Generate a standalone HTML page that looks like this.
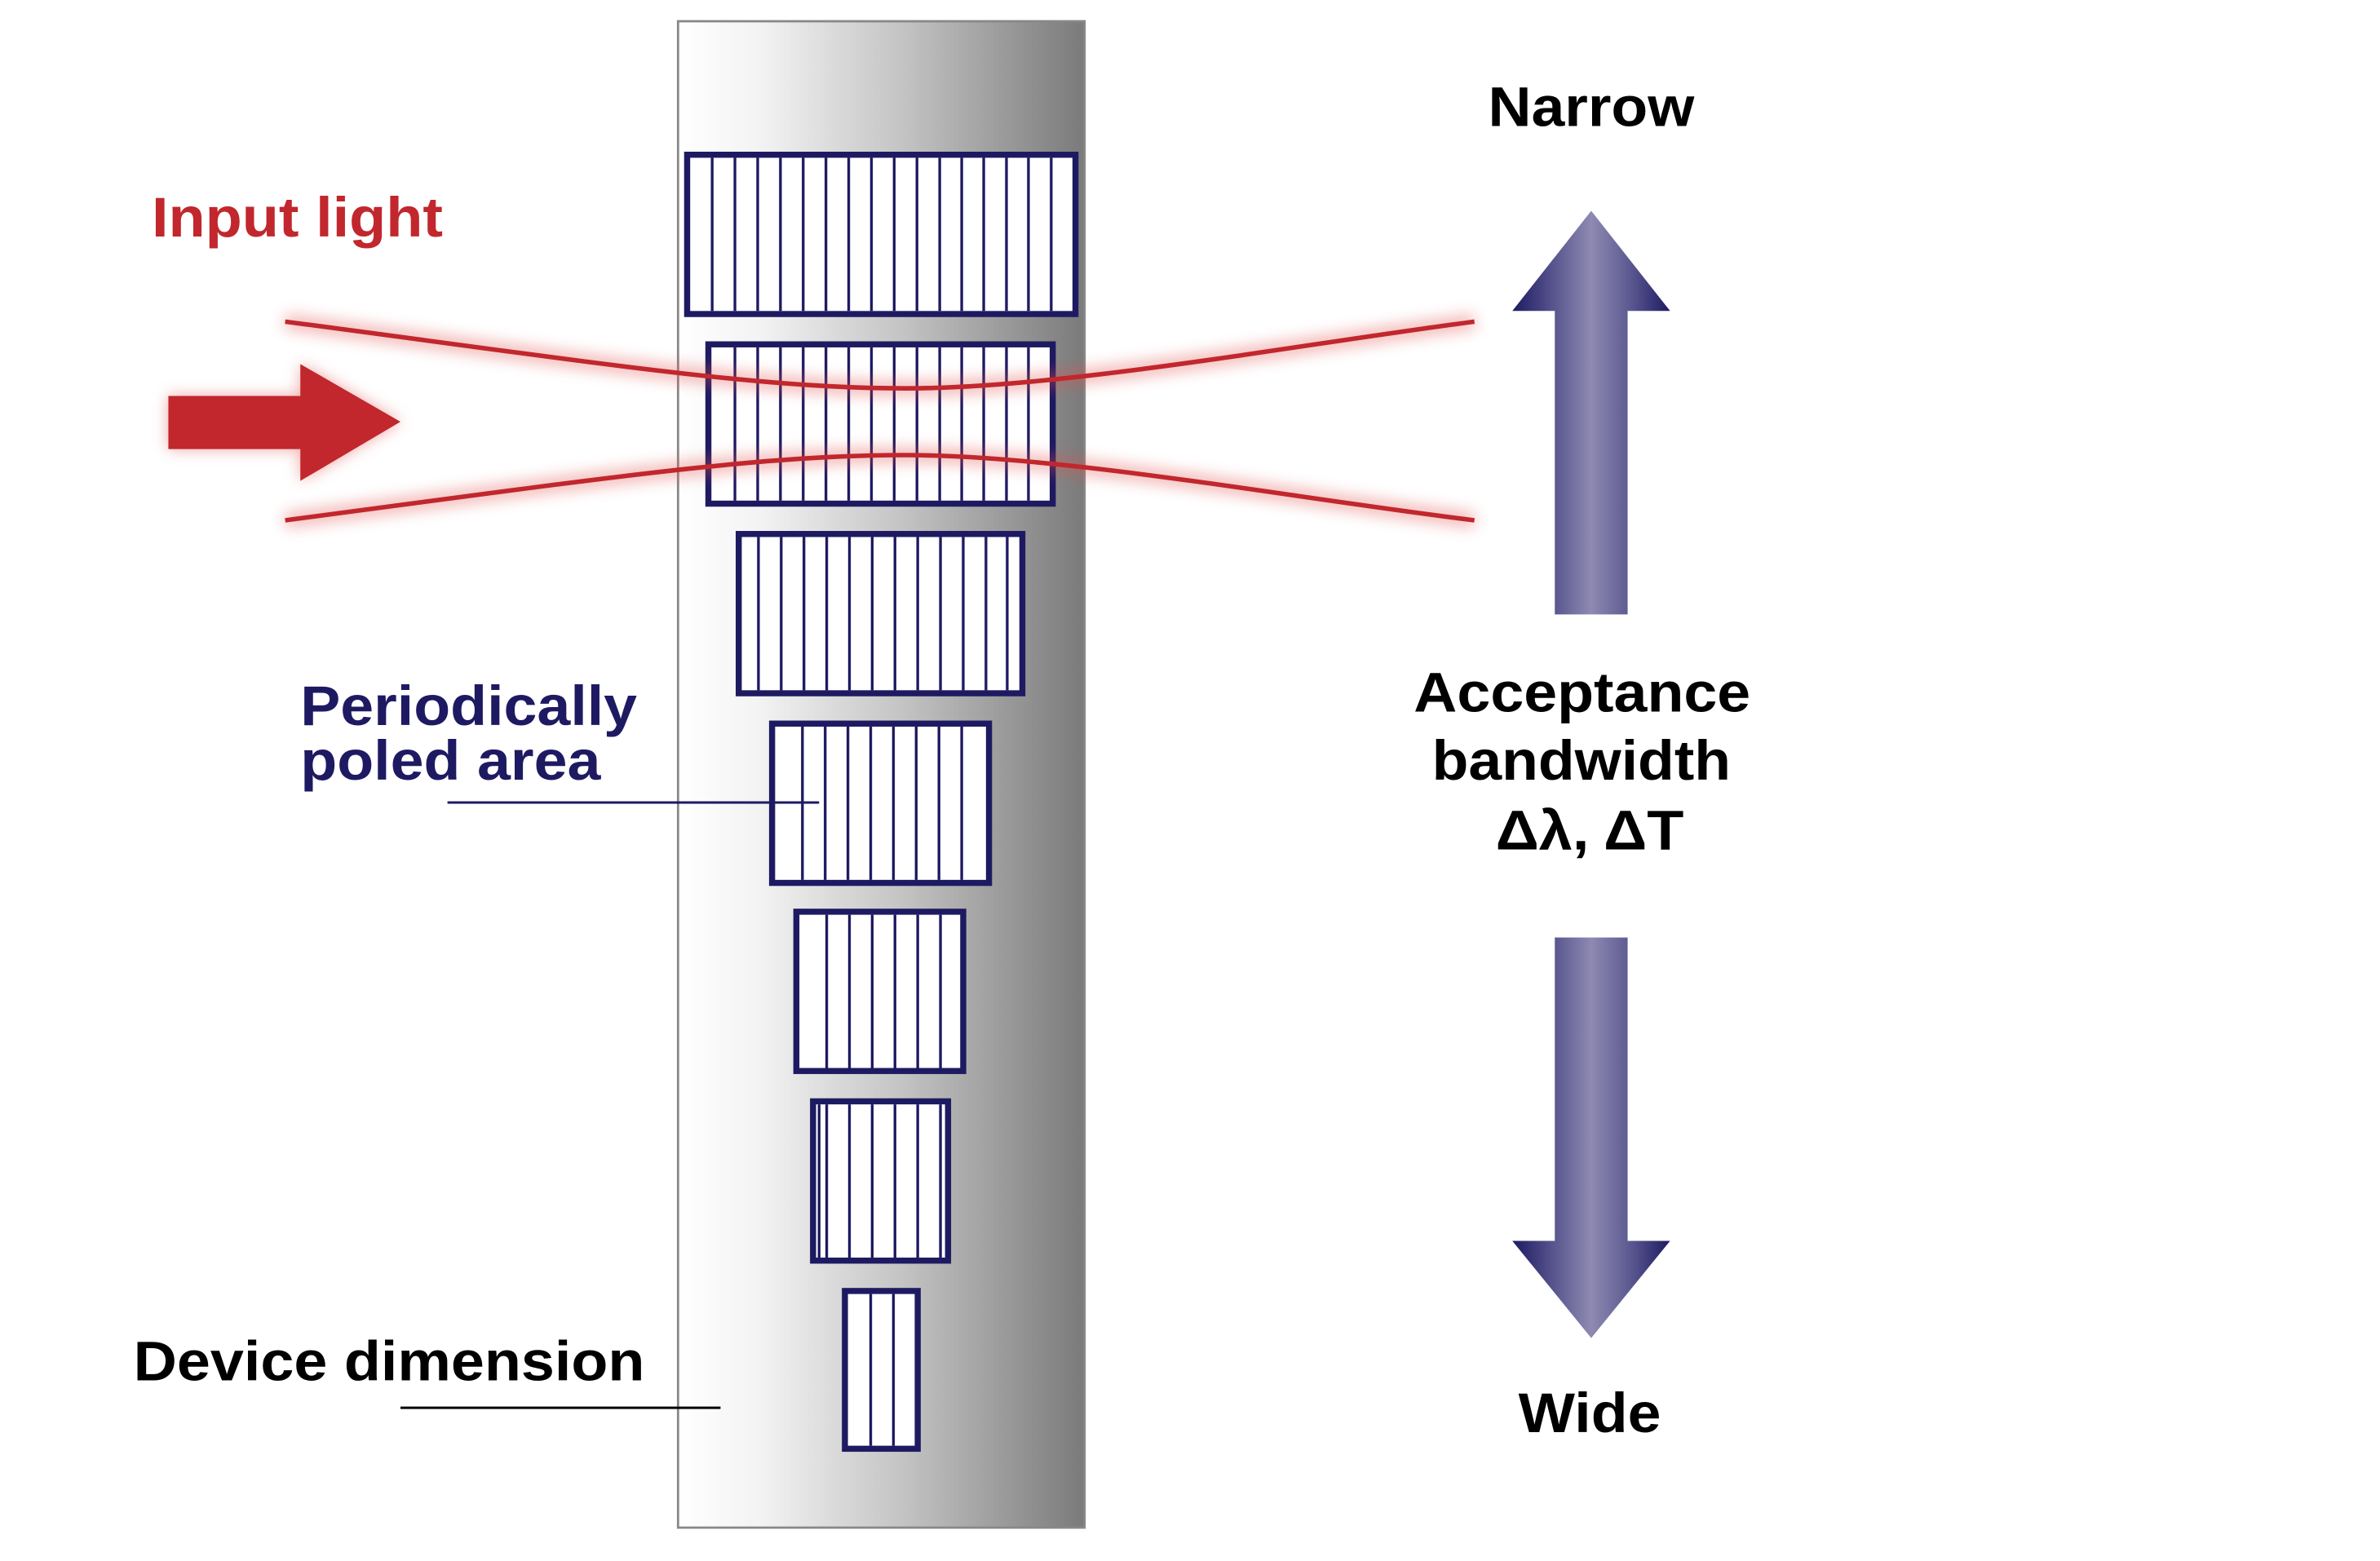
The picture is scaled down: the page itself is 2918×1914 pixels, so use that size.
<!DOCTYPE html>
<html><head><meta charset="utf-8"><style>
html,body{margin:0;padding:0;background:#fff;}
svg{display:block;}
text{font-family:"Liberation Sans",Arial,sans-serif;font-weight:bold;}
</style></head><body>
<svg width="2918" height="1914" viewBox="0 0 1569 1029" preserveAspectRatio="none" xmlns="http://www.w3.org/2000/svg">
<defs>
<linearGradient id="dev" x1="0" x2="1" y1="0" y2="0">
<stop offset="0" stop-color="#ffffff"/>
<stop offset="0.2" stop-color="#f3f3f3"/>
<stop offset="0.55" stop-color="#c4c4c4"/>
<stop offset="1" stop-color="#7a7a7a"/>
</linearGradient>
<linearGradient id="pur" x1="0" x2="1" y1="0" y2="0">
<stop offset="0" stop-color="#1e1a62"/>
<stop offset="0.25" stop-color="#55528c"/>
<stop offset="0.5" stop-color="#8e8ab2"/>
<stop offset="0.75" stop-color="#5b5890"/>
<stop offset="1" stop-color="#1e1a62"/>
</linearGradient>
<filter id="glow" x="-20%" y="-50%" width="140%" height="200%">
<feGaussianBlur stdDeviation="5"/>
</filter>
</defs>

<!-- device -->
<rect x="447" y="14" width="268" height="993" fill="url(#dev)" stroke="#888" stroke-width="1.5"/>

<!-- gratings -->
<g fill="#fff" stroke="#1e1a62" stroke-width="4">
<rect x="453" y="102" width="256" height="105"/>
<rect x="467" y="227" width="227" height="105"/>
<rect x="487" y="352" width="187" height="105"/>
<rect x="509" y="477" width="143" height="105"/>
<rect x="525" y="601" width="110" height="105"/>
<rect x="536" y="726" width="89" height="105"/>
<rect x="557" y="851" width="48" height="104"/>
</g>
<g stroke="#1e1a62" stroke-width="1.8">
<path d="M469.5 104V205M484.5 104V205M499.5 104V205M514.5 104V205M529.5 104V205M544.5 104V205M559.5 104V205M574.5 104V205M589.5 104V205M604.5 104V205M619.5 104V205M634 104V205M648.5 104V205M663.5 104V205M678 104V205M693 104V205"/>
<path d="M484.5 229V330M499.5 229V330M514.5 229V330M529.5 229V330M544.5 229V330M559.5 229V330M574.5 229V330M589.5 229V330M604.5 229V330M619.5 229V330M634 229V330M648.5 229V330M663.5 229V330M678 229V330"/>
<path d="M500 354V455M515 354V455M530 354V455M545 354V455M560 354V455M575 354V455M590 354V455M605 354V455M620 354V455M635 354V455M650 354V455M664 354V455"/>
<path d="M529 479V580M544 479V580M559 479V580M574 479V580M589 479V580M604 479V580M619 479V580M634 479V580"/>
<path d="M545 603V704M560 603V704M575 603V704M590 603V704M605 603V704M620 603V704"/>
<path d="M540 728V829M545 728V829M560 728V829M575 728V829M590 728V829M605 728V829M620 728V829"/>
<path d="M574 853V953M589 853V953"/>
</g>

<!-- red beams -->
<g fill="none" stroke="#e0504c" stroke-width="9" opacity="0.45" filter="url(#glow)">
<path d="M188 212 C 400 240 500 256 597 256 C 700 256 850 228 972 212"/>
<path d="M188 343 C 400 315 500 300 597 300 C 700 300 850 328 972 343"/>
</g>
<g fill="none" stroke="#c1272d" stroke-width="3">
<path d="M188 212 C 400 240 500 256 597 256 C 700 256 850 228 972 212"/>
<path d="M188 343 C 400 315 500 300 597 300 C 700 300 850 328 972 343"/>
</g>

<!-- red input arrow -->
<path d="M111 261H198V240L264 278L198 317V296H111Z" fill="#e0504c" opacity="0.5" filter="url(#glow)"/>
<path d="M111 261H198V240L264 278L198 317V296H111Z" fill="#c1272d"/>

<!-- purple arrows -->
<path d="M1025 405V205H997L1049 139L1101 205H1073V405Z" fill="url(#pur)"/>
<path d="M1025 618V818H997L1049 882L1101 818H1073V618Z" fill="url(#pur)"/>

<!-- leader lines -->
<line x1="295" y1="529" x2="540" y2="529" stroke="#1e1a62" stroke-width="1.6"/>
<line x1="264" y1="928" x2="475" y2="928" stroke="#000" stroke-width="1.6"/>

<!-- text -->
<text x="100" y="156" font-size="37" fill="#c1272d" textLength="192" lengthAdjust="spacingAndGlyphs">Input light</text>
<text x="198" y="478" font-size="37" fill="#1e1a62" textLength="222" lengthAdjust="spacingAndGlyphs">Periodically</text>
<text x="198" y="514" font-size="37" fill="#1e1a62" textLength="198" lengthAdjust="spacingAndGlyphs">poled area</text>
<text x="88" y="910" font-size="37" fill="#000" textLength="337" lengthAdjust="spacingAndGlyphs">Device dimension</text>
<text x="981" y="83" font-size="37" fill="#000" textLength="136" lengthAdjust="spacingAndGlyphs">Narrow</text>
<text x="932" y="469" font-size="37" fill="#000" textLength="222" lengthAdjust="spacingAndGlyphs">Acceptance</text>
<text x="944" y="514" font-size="37" fill="#000" textLength="197" lengthAdjust="spacingAndGlyphs">bandwidth</text>
<text x="986" y="560" font-size="37" fill="#000" textLength="124" lengthAdjust="spacingAndGlyphs">Δλ, ΔT</text>
<text x="1001" y="944" font-size="37" fill="#000" textLength="94" lengthAdjust="spacingAndGlyphs">Wide</text>
</svg>
</body></html>
